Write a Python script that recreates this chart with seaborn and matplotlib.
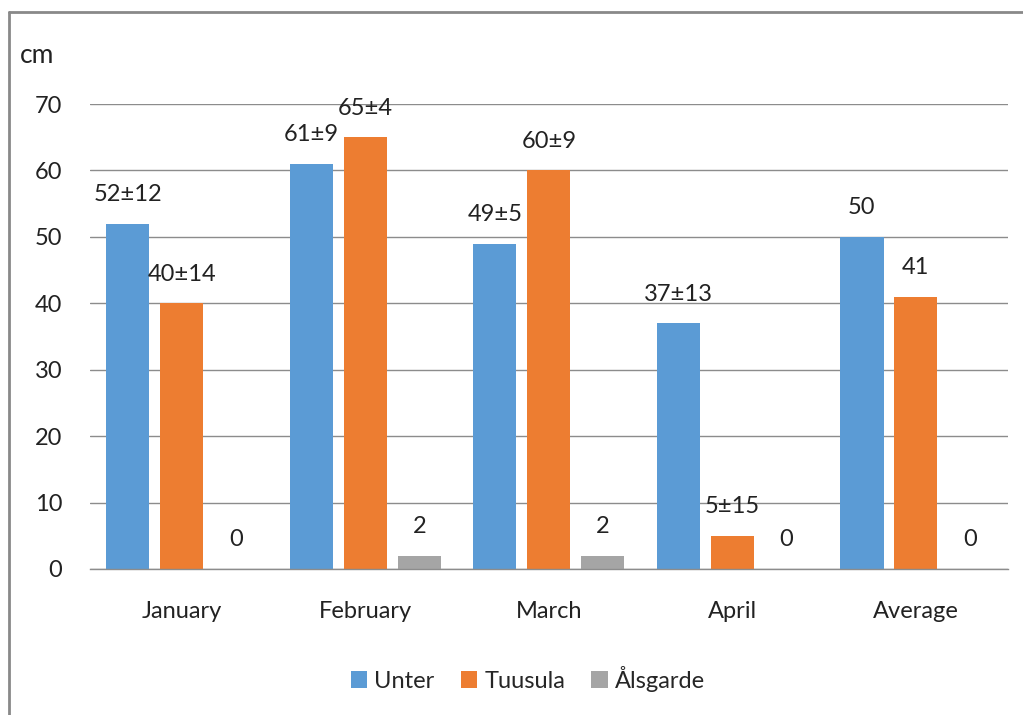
import numpy as np
import pandas as pd
import seaborn as sns
import matplotlib.pyplot as plt
from matplotlib.lines import Line2D

# _____ data
months = ['January', 'February', 'March', 'April', 'Average']
series = ['Unter', 'Tuusula', 'Ålsgarde']
unter = [52, 61, 49, 37, 50]
tuusula = [40, 65, 60, 5, 41]
alsgarde = [0, 2, 2, 0, 0]
unter_lbl = ['52±12', '61±9', '49±5', '37±13', '50']
tuusula_lbl = ['40±14', '65±4', '60±9', '5±15', '41']
alsgarde_lbl = ['0', '2', '2', '0', '0']

colors = ['#5B9BD5', '#ED7D31', '#A5A5A5']

df = pd.DataFrame({
    'month': months * 3,
    'site': [s for s in series for _ in months],
    'cm': unter + tuusula + alsgarde,
    'label': unter_lbl + tuusula_lbl + alsgarde_lbl,
})

sns.set_theme(style='white')
plt.rcParams['font.family'] = ['Lato', 'DejaVu Sans']

fs = 17
fig = plt.figure(figsize=(10.23, 7.15), dpi=100)
ax = fig.add_axes([0.088, 0.2042, 0.897, 0.6503])

sns.barplot(data=df, x='month', y='cm', hue='site', order=months, hue_order=series,
            palette=colors, width=0.882, gap=0.2, saturation=1, linewidth=0,
            ax=ax, legend=True)

# value labels
for cont, s in zip(ax.containers, series):
    labs = df[df.site == s].label.tolist()
    for bar, lab in zip(cont, labs):
        ax.annotate(lab, (bar.get_x() + bar.get_width() / 2, bar.get_height()),
                    xytext=(0, 21), textcoords='offset points',
                    ha='center', va='center', fontsize=fs, color='#222222')

ax.set_ylim(0, 70)
ax.set_xlim(-0.5, 4.5)
ax.set_yticks(range(0, 71, 10))
ax.yaxis.grid(True, color='#8c8c8c', linewidth=1.0)
ax.set_axisbelow(True)
for sp in ['top', 'right', 'left']:
    ax.spines[sp].set_visible(False)
ax.spines['bottom'].set_color('#8c8c8c')
ax.spines['bottom'].set_linewidth(1.0)
ax.tick_params(axis='both', length=0, labelsize=fs, colors='#222222')
ax.tick_params(axis='y', pad=20)
ax.tick_params(axis='x', pad=23)
ax.set_xlabel('')
ax.set_ylabel('')

fig.text(0.019, 0.923, 'cm', fontsize=19, color='#222222', va='center')

ax.legend(loc='center', bbox_to_anchor=(0.516, 0.051), bbox_transform=fig.transFigure,
          ncol=3, frameon=False, fontsize=fs, handlelength=0.7, handleheight=0.7,
          handletextpad=0.3, columnspacing=1.1)

# outer border (top and left visible)
fig.add_artist(Line2D([0.009, 1.0], [0.983, 0.983], transform=fig.transFigure,
                      color='#898989', linewidth=2))
fig.add_artist(Line2D([0.009, 0.009], [0.0, 0.983], transform=fig.transFigure,
                      color='#898989', linewidth=2))

fig.savefig('out.png', dpi=100)
